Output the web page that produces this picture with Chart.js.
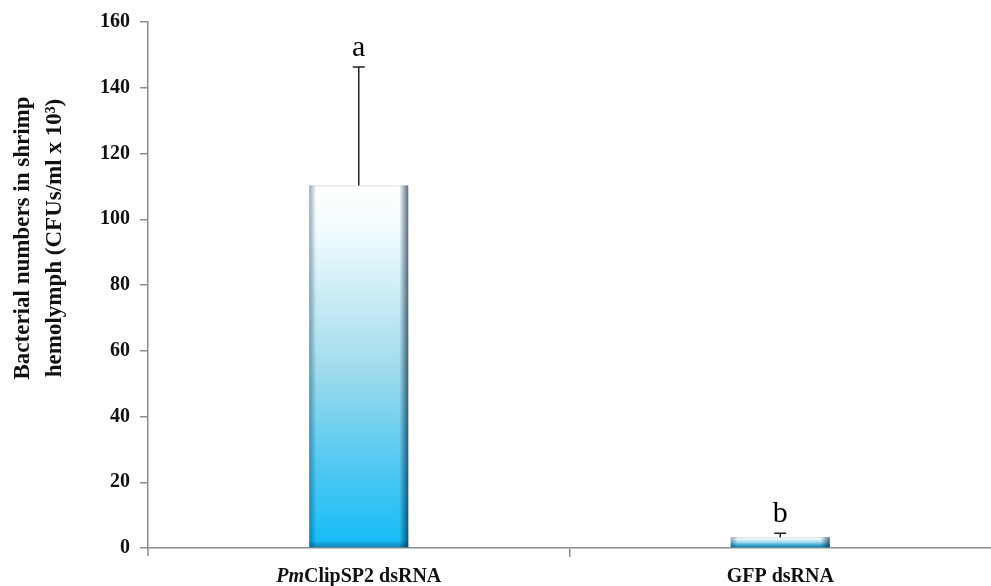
<!DOCTYPE html>
<html>
<head>
<meta charset="utf-8">
<script src="https://cdn.jsdelivr.net/npm/chart.js@4"></script>
<style>
  body { margin: 0; background: #fff; }
  #wrap { width: 991px; height: 586px; }
</style>
</head>
<body>
<div id="wrap"><canvas id="chart" width="991" height="586"></canvas></div>
<script>
// data
const categories = ["PmClipSP2 dsRNA", "GFP dsRNA"];
const italicPrefix = ["Pm", ""];
const meanValues = [110.3, 3.3];
const errorValues = [36, 1.2];
const letters = ["a", "b"];
const yTitleLines = ["Bacterial numbers in shrimp", "hemolymph (CFUs/ml x 10\u00B3)"];

const serif = "'Liberation Serif', 'Times New Roman', serif";

/* ===============================
   BAR LOOK (gradient + bevel)
================================ */
const barLook = {
  id: "barLook",
  beforeDatasetsDraw(chart) {
    const ctx = chart.ctx;
    chart.getDatasetMeta(0).data.forEach(bar => {
      const g = ctx.createLinearGradient(0, bar.y, 0, bar.base);
      g.addColorStop(0, "#ffffff");
      g.addColorStop(0.12, "#f2fcff");
      g.addColorStop(0.5, "#a2dcec");
      g.addColorStop(0.8, "#4ac7f2");
      g.addColorStop(1, "#14bcf8");
      bar.options = Object.assign({}, bar.options, { backgroundColor: g });
    });
  },
  afterDatasetsDraw(chart) {
    const ctx = chart.ctx;
    const yScale = chart.scales.y;
    chart.getDatasetMeta(0).data.forEach((bar, i) => {
      const l = bar.x - bar.width / 2;
      const r = bar.x + bar.width / 2;
      const t = bar.y;
      const b = bar.base;
      const e = Math.min(7, (b - t) / 2);
      ctx.save();
      // left edge
      let g = ctx.createLinearGradient(l, 0, l + 7, 0);
      g.addColorStop(0, "rgba(0,40,70,0.4)");
      g.addColorStop(1, "rgba(0,40,70,0)");
      ctx.fillStyle = g;
      ctx.fillRect(l, t, 7, b - t);
      // right edge
      g = ctx.createLinearGradient(r - 9, 0, r, 0);
      g.addColorStop(0, "rgba(0,30,60,0)");
      g.addColorStop(1, "rgba(0,30,60,0.65)");
      ctx.fillStyle = g;
      ctx.fillRect(r - 9, t, 9, b - t);
      // bottom edge
      g = ctx.createLinearGradient(0, b - e, 0, b);
      g.addColorStop(0, "rgba(0,30,60,0)");
      g.addColorStop(1, "rgba(0,30,60,0.35)");
      ctx.fillStyle = g;
      ctx.fillRect(l, b - e, r - l, e);
      // top edge
      ctx.fillStyle = "rgba(120,130,140,0.25)";
      ctx.fillRect(l, t, r - l, 1);

      // error bar
      const top = yScale.getPixelForValue(meanValues[i] + errorValues[i]);
      ctx.strokeStyle = "#222";
      ctx.lineWidth = 1.5;
      ctx.beginPath();
      ctx.moveTo(bar.x, t);
      ctx.lineTo(bar.x, top);
      ctx.moveTo(bar.x - 6, top);
      ctx.lineTo(bar.x + 6, top);
      ctx.stroke();

      // significance letter
      ctx.fillStyle = "#000";
      ctx.font = "30px " + serif;
      ctx.textAlign = "center";
      ctx.textBaseline = "alphabetic";
      ctx.fillText(letters[i], bar.x, top - 11);
      ctx.restore();
    });
  }
};

/* ===============================
   TEXT (x labels + y title)
================================ */
const textLayer = {
  id: "textLayer",
  afterDraw(chart) {
    const ctx = chart.ctx;
    const xScale = chart.scales.x;
    const area = chart.chartArea;
    ctx.save();
    // y axis runs a bit below the x axis
    ctx.strokeStyle = "#8c8c8c";
    ctx.lineWidth = 1.5;
    ctx.beginPath();
    ctx.moveTo(area.left, area.bottom);
    ctx.lineTo(area.left, area.bottom + 8);
    ctx.stroke();

    ctx.fillStyle = "#111";
    ctx.textBaseline = "alphabetic";
    categories.forEach((cat, i) => {
      const cx = xScale.getPixelForValue(i);
      const pre = italicPrefix[i];
      const rest = cat.slice(pre.length);
      ctx.font = "italic bold 20px " + serif;
      const w1 = ctx.measureText(pre).width;
      ctx.font = "bold 20px " + serif;
      const w2 = ctx.measureText(rest).width;
      const x = cx - (w1 + w2) / 2;
      ctx.textAlign = "left";
      ctx.font = "italic bold 20px " + serif;
      ctx.fillText(pre, x, 582);
      ctx.font = "bold 20px " + serif;
      ctx.fillText(rest, x + w1, 582);
    });

    ctx.font = "bold 23px " + serif;
    ctx.textAlign = "center";
    ctx.textBaseline = "middle";
    [23, 55].forEach((x, k) => {
      ctx.save();
      ctx.translate(x, 238);
      ctx.rotate(-Math.PI / 2);
      ctx.fillText(yTitleLines[k], 0, 0);
      ctx.restore();
    });
    ctx.restore();
  }
};

new Chart(document.getElementById("chart"), {
  type: "bar",
  data: {
    labels: categories,
    datasets: [{
      data: meanValues,
      backgroundColor: () => "#16bdf8",
      borderWidth: 0,
      barPercentage: 0.235,
      categoryPercentage: 1
    }]
  },
  options: {
    responsive: false,
    animation: false,
    layout: { padding: { top: 14, right: 0, left: 0, bottom: 0 } },
    plugins: {
      legend: { display: false },
      tooltip: { enabled: false }
    },
    scales: {
      x: {
        offset: true,
        grid: {
          offset: true,
          drawOnChartArea: false,
          drawTicks: true,
          tickLength: 9,
          color: c => (c.index === 1 ? "#8c8c8c" : "rgba(0,0,0,0)"),
          lineWidth: 1.5
        },
        border: { color: "#8c8c8c", width: 1.5 },
        ticks: { display: false },
        afterFit(scale) { scale.height = 38; }
      },
      y: {
        min: 0,
        max: 160,
        ticks: {
          stepSize: 20,
          color: "#111",
          padding: 10,
          font: { family: serif, size: 20, weight: "bold" }
        },
        grid: {
          drawOnChartArea: false,
          drawTicks: true,
          tickLength: 8,
          color: "#8c8c8c",
          lineWidth: 1.5
        },
        border: { color: "#8c8c8c", width: 1.5 },
        afterFit(scale) { scale.width = 148; }
      }
    }
  },
  plugins: [barLook, textLayer]
});
</script>
</body>
</html>
